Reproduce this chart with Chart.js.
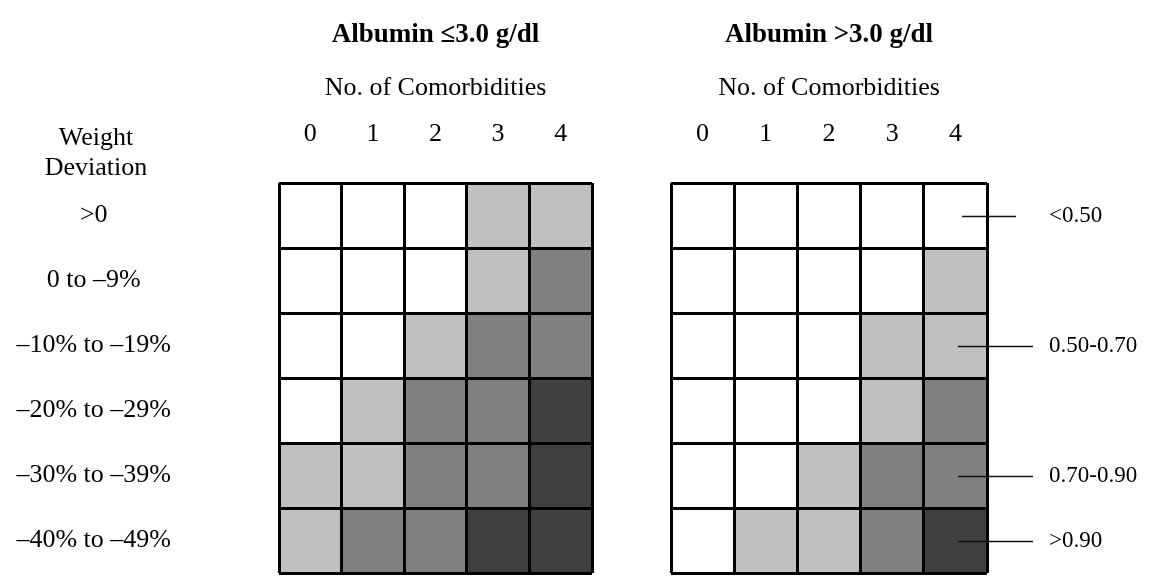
<!DOCTYPE html>
<html>
<head>
<meta charset="utf-8">
<script src="https://cdn.jsdelivr.net/npm/chart.js@4.4.1/dist/chart.umd.min.js"></script>
<style>
  html, body { margin: 0; padding: 0; background: #fff; }
  #wrap { position: relative; width: 1154px; height: 576px; }
  #wrap canvas { position: absolute; left: 0; top: 0; }
</style>
</head>
<body>
<div id="wrap">
  <canvas id="lowAlbumin" width="1154" height="576"></canvas>
  <canvas id="highAlbumin" width="1154" height="576"></canvas>
</div>
<script>
const comorbidities = ['0', '1', '2', '3', '4']
const weightDeviation = ['>0', '0 to –9%', '–10% to –19%', '–20% to –29%', '–30% to –39%', '–40% to –49%']

// shade band of each cell: 0 = <0.50, 1 = 0.50-0.70, 2 = 0.70-0.90, 3 = >0.90
const lowAlbumin = [
  [0, 0, 0, 1, 1],
  [0, 0, 0, 1, 2],
  [0, 0, 1, 2, 2],
  [0, 1, 2, 2, 3],
  [1, 1, 2, 2, 3],
  [1, 2, 2, 3, 3],
]
const highAlbumin = [
  [0, 0, 0, 0, 0],
  [0, 0, 0, 0, 1],
  [0, 0, 0, 1, 1],
  [0, 0, 0, 1, 2],
  [0, 0, 1, 2, 2],
  [0, 1, 1, 2, 3],
]

const bandLabels = ['<0.50', '0.50-0.70', '0.70-0.90', '>0.90']
// row of the right grid that each band label points at
const bandRows = [0, 2, 4, 5]
const bandColors = ['#ffffff', '#c0c0c0', '#808080', '#404040']

const serif = "'Liberation Serif', 'Times New Roman', serif"
const titleBox = 18.4 + 27 * 1.2 // title padding + line height
const gridTop = 183

// "Weight / Deviation" header over the row labels
const headerText = {
  id: 'headerText',
  afterDraw(chart, args, opts) {
    if (!opts.lines) return
    const ctx = chart.ctx
    ctx.save()
    ctx.fillStyle = '#000'
    ctx.font = '26px ' + serif
    ctx.textAlign = 'center'
    ctx.textBaseline = 'alphabetic'
    opts.lines.forEach((line, i) => ctx.fillText(line, opts.x, opts.y + i * opts.gap))
    ctx.restore()
  }
}

// short lines from the last column out to the band labels
const leaderLines = {
  id: 'leaderLines',
  afterDraw(chart, args, opts) {
    if (!opts.rows) return
    const { ctx, chartArea } = chart
    const y = chart.scales.y
    ctx.save()
    ctx.strokeStyle = '#111'
    ctx.lineWidth = 1.5
    opts.rows.forEach((r, i) => {
      const py = Math.round(y.getPixelForValue(r + 0.5)) + 0.5
      ctx.beginPath()
      ctx.moveTo(chartArea.right - (i === 0 ? 25 : 29), py)
      ctx.lineTo(chartArea.right + (i === 0 ? 29 : 46), py)
      ctx.stroke()
    })
    ctx.restore()
  }
}

function buildDatasets(levels) {
  return levels.map((row, r) => ({
    label: weightDeviation[r],
    data: row.map(() => [r, r + 1]),
    backgroundColor: row.map(l => bandColors[l]),
    borderWidth: 0,
    grouped: false,
    barPercentage: 1,
    categoryPercentage: 1,
  }))
}

// keep the label axes from reserving extra room above and below the grid
function fixRowAxis(width) {
  return scale => {
    scale.width = width
    scale.paddingTop = 0
    scale.paddingBottom = 0
  }
}

function makeGrid(id, title, levels, side) {
  const isLeft = side === 'left'
  const rowAxis = isLeft
    ? {
        type: 'category',
        labels: weightDeviation,
        position: 'left',
        offset: true,
        weight: 1,
        grid: { display: false },
        border: { display: false },
        ticks: { color: '#000', font: { family: serif, size: 26 }, crossAlign: 'center', padding: 100 },
        afterFit: fixRowAxis(279),
      }
    : {
        type: 'category',
        labels: weightDeviation.map((_, r) => {
          const i = bandRows.indexOf(r)
          return i < 0 ? '' : bandLabels[i]
        }),
        position: 'right',
        offset: true,
        weight: 1,
        grid: { display: false },
        border: { display: false },
        ticks: { color: '#000', font: { family: serif, size: 23 }, padding: 54 },
        afterFit: fixRowAxis(167),
      }

  return new Chart(document.getElementById(id), {
    type: 'bar',
    data: {
      labels: comorbidities,
      datasets: buildDatasets(levels),
    },
    plugins: [headerText, leaderLines],
    options: {
      responsive: false,
      animation: false,
      devicePixelRatio: 1,
      events: [],
      layout: {
        padding: isLeft
          ? { left: 0, right: 562, top: 0, bottom: 3 }
          : { left: 671, right: 0, top: 0, bottom: 3 },
      },
      plugins: {
        legend: { display: false },
        tooltip: { enabled: false },
        title: {
          display: true,
          text: title,
          fullSize: false,
          color: '#000',
          font: { family: serif, size: 27, weight: 'bold' },
          padding: { top: 18.4, bottom: 0 },
        },
        headerText: isLeft ? { lines: ['Weight', 'Deviation'], x: 96, y: 145, gap: 30 } : {},
        leaderLines: isLeft ? {} : { rows: bandRows },
      },
      scales: {
        x: {
          position: 'top',
          grid: { color: '#000', lineWidth: 3, offset: true, drawTicks: false, z: 1 },
          border: { display: false },
          ticks: { color: '#000', font: { family: serif, size: 26 }, padding: 33 },
          title: {
            display: true,
            text: 'No. of Comorbidities',
            color: '#000',
            font: { family: serif, size: 26 },
            padding: { top: 21.4, bottom: 0 },
          },
          afterFit: scale => {
            scale.height = gridTop - titleBox
            scale.paddingLeft = 0
            scale.paddingRight = 0
          },
        },
        y: {
          min: 0,
          max: 6,
          reverse: true,
          weight: 0,
          grid: { color: '#000', lineWidth: 3, drawTicks: false, z: 1 },
          border: { display: false },
          ticks: { display: false, stepSize: 1 },
        },
        y2: rowAxis,
      },
    },
  })
}

makeGrid('lowAlbumin', 'Albumin ≤3.0 g/dl', lowAlbumin, 'left')
makeGrid('highAlbumin', 'Albumin >3.0 g/dl', highAlbumin, 'right')
</script>
</body>
</html>
